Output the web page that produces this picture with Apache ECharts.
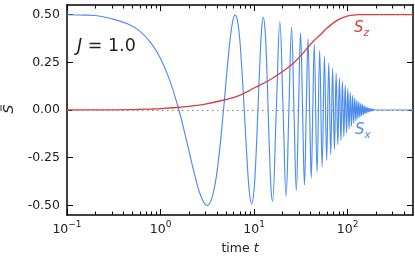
<!DOCTYPE html>
<html><head><meta charset="utf-8">
<script src="https://cdn.jsdelivr.net/npm/echarts@6/dist/echarts.min.js"></script>
<style>html,body{margin:0;padding:0;background:#fff}#c{width:415px;height:257px}</style>
</head><body><div id="c"></div>
<script>
// S_x (blue) samples: time, value
const sxTime = [0.1,0.15,0.2,0.3,0.45,0.6,0.8,1.0,1.25,1.571,1.9,2.3,2.7,3.142,3.6,4.1,4.712,5.3,5.8,6.283,6.8,7.3,7.854,8.4,8.9,9.425,10.0,10.5,10.996,11.6,12.1,12.566,13.1,13.6,14.137,14.7,15.2,15.708,
17.279,18.850,20.420,21.991,23.562,25.133,26.704,28.274,29.845,31.416,32.987,34.558,36.128,37.699,39.27,40.841,42.412,43.982,
47.124,50.265,53.407,56.549,59.690,62.832,65.973,69.115,72.257,75.398,78.540,81.681,84.823,87.965,91.106,94.248,97.389,100.531,103.673,106.814,109.956,113.097,116.239,119.381,122.522,125.664,128.805,131.947,135.088,138.230,141.372,144.513,147.655,150.796,153.938,157.080,160.221,163.363,166.504,169.646,172.788,175.929,179.071,182.212,185.354,188.496,200,500];
const sxValue = [0.499,0.497,0.495,0.478,0.450,0.413,0.348,0.270,0.158,0.000,-0.162,-0.333,-0.452,-0.500,-0.448,-0.289,0.000,0.277,0.442,0.498,0.436,0.258,0.000,-0.256,-0.428,-0.493,-0.415,-0.234,0.000,0.277,0.438,0.486,0.420,0.255,0.000,-0.256,-0.418,-0.477,
0,0.463,0,-0.451,0,0.435,0,-0.422,0,0.404,0,-0.392,0,0.372,0,-0.356,0,0.343,
-0.325,0.312,-0.298,0.280,-0.264,0.246,-0.233,0.218,-0.207,0.192,-0.182,0.168,-0.160,0.151,-0.140,0.130,-0.120,0.110,-0.100,0.092,-0.085,0.077,-0.070,0.063,-0.057,0.051,-0.046,0.042,-0.038,0.034,-0.030,0.027,-0.024,0.021,-0.019,0.017,-0.015,0.013,-0.011,0.010,-0.008,0.007,-0.006,0.005,-0.004,0.003,0,0];
// S_z (red) samples
const szTime = [0.1,0.3,0.5,0.8,1.0,1.5,2,3,5,7,10,15,20,27,35,43,50,60,70,80,95,110,130,200,500];
const szValue = [0.0005,0.001,0.002,0.005,0.007,0.013,0.019,0.031,0.055,0.077,0.115,0.16,0.2,0.25,0.31,0.36,0.39,0.428,0.455,0.473,0.489,0.496,0.5,0.5,0.5];
const xTickValues = [0.1, 1, 10, 100];
const xMinorTicks = [0.2,0.3,0.4,0.5,0.6,0.7,0.8,0.9,2,3,4,5,6,7,8,9,20,30,40,50,60,70,80,90,200,300,400];
const yTickValues = [-0.5, -0.25, 0, 0.25, 0.5];
const xRange = [0.1, 500];
const yRange = [-0.55, 0.55];

const FONT = 'DejaVu Sans';
const TXT = '#222';
const BLUE = '#4a8cf2';
const RED = '#dc3c3c';

const chart = echarts.init(document.getElementById('c'), null, {renderer: 'canvas'});
const axisLine = {show: true, onZero: false, lineStyle: {color: '#000', width: 1.5}};
const tick = (show) => ({show: true, inside: true, length: 6, customValues: show, lineStyle: {color: '#000', width: 1}});

function xLabel(v) {
  const e = Math.round(Math.log10(v));
  return '{b|10}{s|' + (e < 0 ? '\u2212' : '') + Math.abs(e) + '}';
}

chart.setOption({
  animation: false,
  backgroundColor: '#fff',
  grid: {left: 67, right: 2, top: 5, bottom: 42, containLabel: false, outerBoundsMode: 'none'},
  xAxis: [{
    type: 'log', logBase: 10, min: xRange[0], max: xRange[1], position: 'bottom',
    axisLine, axisTick: tick(xTickValues), splitLine: {show: false},
    axisLabel: {
      customValues: xTickValues, formatter: xLabel, margin: 5, hideOverlap: false,
      rich: {
        b: {fontSize: 12.5, fontFamily: FONT, color: TXT, verticalAlign: 'bottom', lineHeight: 16},
        s: {fontSize: 9, fontFamily: FONT, color: TXT, verticalAlign: 'top', lineHeight: 10}
      }
    },
    name: '{a|time }{b|t}', nameLocation: 'middle', nameGap: 27,
    nameTextStyle: {rich: {
      a: {fontSize: 12.5, fontFamily: FONT, color: TXT},
      b: {fontSize: 12.5, fontFamily: FONT, fontStyle: 'italic', color: TXT}
    }}
  }, {
    type: 'log', logBase: 10, min: xRange[0], max: xRange[1], position: 'top',
    axisLine, axisTick: tick(xTickValues), axisLabel: {show: false}, splitLine: {show: false}
  }],
  yAxis: [{
    type: 'value', min: yRange[0], max: yRange[1], position: 'left',
    axisLine, axisTick: tick(yTickValues), splitLine: {show: false},
    axisLabel: {customValues: yTickValues, formatter: v => v.toFixed(2), fontSize: 12.5, fontFamily: FONT, color: TXT, margin: 7}
  }, {
    type: 'value', min: yRange[0], max: yRange[1], position: 'right',
    axisLine, axisTick: tick(yTickValues), axisLabel: {show: false}, splitLine: {show: false}
  }],
  series: [{
    type: 'line', name: 'Sx', showSymbol: false, smooth: 0.4,
    data: sxTime.map((t, i) => [t, sxValue[i]]),
    lineStyle: {color: BLUE, width: 1.15}, z: 3,
    markLine: {
      silent: true, symbol: 'none', label: {show: false},
      lineStyle: {color: '#888', type: [1.5, 3.5], width: 1},
      data: [{yAxis: 0}]
    }
  }, {
    type: 'line', name: 'Sz', showSymbol: false, smooth: 0.4,
    data: szTime.map((t, i) => [t, szValue[i]]),
    lineStyle: {color: RED, width: 1.3}, z: 4
  }, {
    type: 'custom', name: 'minorTicks', silent: true, z: 10,
    data: xMinorTicks.map(t => [t]),
    renderItem: (params, api) => {
      const t = api.value(0);
      const b = api.coord([t, yRange[0]]);
      const tp = api.coord([t, yRange[1]]);
      const st = {stroke: '#000', lineWidth: 1};
      return {type: 'group', children: [
        {type: 'line', shape: {x1: Math.round(b[0]) + 0.5, y1: b[1], x2: Math.round(b[0]) + 0.5, y2: b[1] - 3.5}, style: st},
        {type: 'line', shape: {x1: Math.round(tp[0]) + 0.5, y1: tp[1], x2: Math.round(tp[0]) + 0.5, y2: tp[1] + 3.5}, style: st}
      ]};
    }
  }],
  graphic: [
    {type: 'group', x: 9, y: 109, rotation: Math.PI / 2, children: [
      {type: 'text', x: 0, y: 0, style: {text: 'S', fontSize: 14, fontFamily: FONT, fontStyle: 'italic', fill: TXT, align: 'center', verticalAlign: 'middle'}},
      {type: 'line', shape: {x1: -2, y1: -8, x2: 4, y2: -8}, style: {stroke: TXT, lineWidth: 0.9}}
    ]},
    {type: 'text', left: 77, top: 37, style: {
      text: '{i|J}{n| = 1.0}', rich: {
        i: {fontSize: 17.5, fontFamily: FONT, fontStyle: 'italic', fill: TXT},
        n: {fontSize: 17.5, fontFamily: FONT, fill: TXT}
      }}},
    {type: 'text', left: 354, top: 21, style: {
      text: '{i|S}{s|z}', rich: {
        i: {fontSize: 15, fontFamily: FONT, fontStyle: 'italic', fill: RED, verticalAlign: 'top', lineHeight: 18},
        s: {fontSize: 10.5, fontFamily: FONT, fontStyle: 'italic', fill: RED, verticalAlign: 'bottom', lineHeight: 14}
      }}},
    {type: 'text', left: 355, top: 123, style: {
      text: '{i|S}{s|x}', rich: {
        i: {fontSize: 15, fontFamily: FONT, fontStyle: 'italic', fill: BLUE, verticalAlign: 'top', lineHeight: 18},
        s: {fontSize: 10.5, fontFamily: FONT, fontStyle: 'italic', fill: BLUE, verticalAlign: 'bottom', lineHeight: 14}
      }}}
  ]
});
</script></body></html>
